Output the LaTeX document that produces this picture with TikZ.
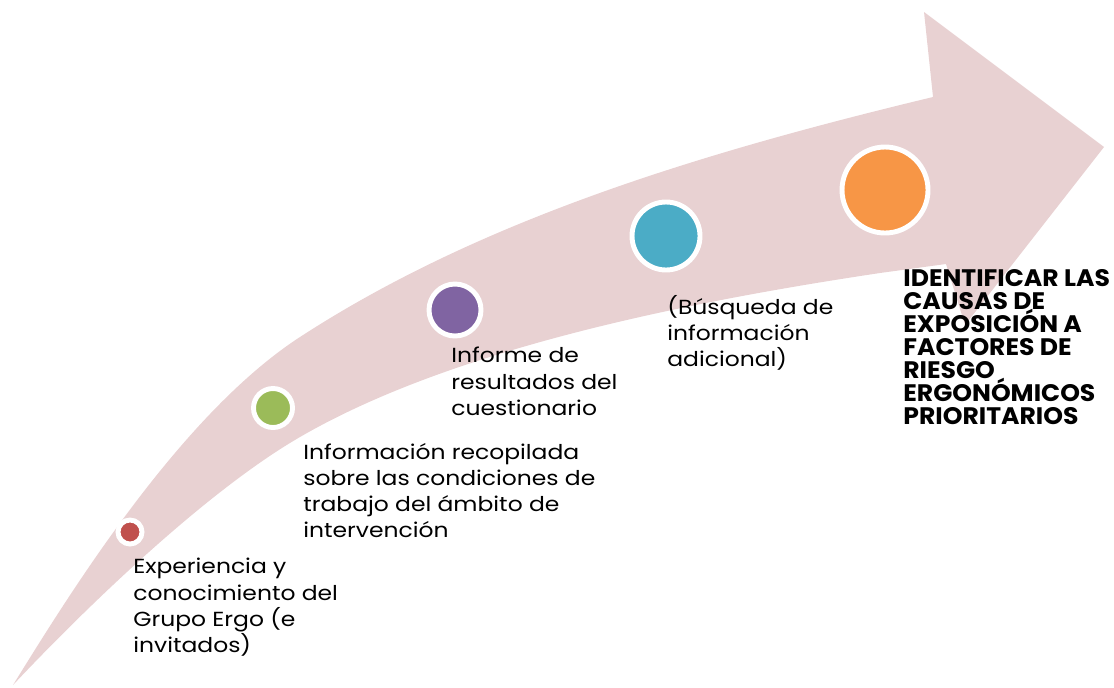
\documentclass[tikz,border=0pt]{standalone}
\usepackage{fontspec}
\setmainfont{Poppins}
\newfontfamily\ancha[FakeStretch=1.15]{Poppins}
\newfontfamily\anchameta[FakeStretch=1.05]{Poppins}
\usetikzlibrary{positioning}
\setlength{\lineskiplimit}{-20pt}

\definecolor{rosa}{RGB}{232,209,210}
\definecolor{rojo}{RGB}{192,80,77}
\definecolor{verde}{RGB}{155,187,89}
\definecolor{morado}{RGB}{128,100,162}
\definecolor{azul}{RGB}{75,172,198}
\definecolor{naranja}{RGB}{247,150,70}

\tikzset{
  punto/.style={circle,draw=white,line width=2.8pt,inner sep=0pt},
  texto/.style={anchor=north west,inner sep=0pt,align=left,
    font=\ancha\fontsize{11.6}{14.9}\selectfont},
  meta/.style={anchor=north west,inner sep=0pt,align=left,
    font=\anchameta\fontsize{13.6}{13.1}\selectfont\bfseries}
}

\begin{document}
\begin{tikzpicture}[x=0.02cm,y=-0.02cm]

\useasboundingbox (0,0) rectangle (1114,687);

%flecha
\coordinate (cola) at (13,685);
\coordinate (a) at (300,337);
\coordinate (b) at (300,437);
\fill[rosa] (cola) .. controls (70,593) and (180,415) .. (a)
  .. controls (480,220) and (700,153) .. (933,97)
  -- (924,12) -- (1104,147) -- (965,325) -- (946,264) -- (880,273)
  .. controls (680,303) and (450,350) .. (b)
  .. controls (210,489) and (93,600) .. (cola) -- cycle;

%puntos
\node[punto,fill=rojo,minimum size=24*0.02cm] (p1) at (130,532) {};
\node[punto,fill=verde,minimum size=39*0.02cm] (p2) at (273,408) {};
\node[punto,fill=morado,minimum size=52*0.02cm] (p3) at (455,310) {};
\node[punto,fill=azul,minimum size=68*0.02cm] (p4) at (666,236) {};
\node[punto,fill=naranja,minimum size=86*0.02cm] (p5) at (885,190) {};

%textos
\node[texto] (t1) at (133,558) {Experiencia y\\conocimiento del\\Grupo Ergo (e\\invitados)};
\node[texto] (t2) at (303,443) {Información recopilada\\sobre las condiciones de\\trabajo del ámbito de\\intervención};
\node[texto] (t3) at (451,347) {Informe de\\resultados del\\cuestionario};
\node[texto] (t4) at (667,295) {(Búsqueda de\\información\\adicional)};
\node[meta] (t5) at (903,269) {IDENTIFICAR LAS\\CAUSAS DE\\EXPOSICIÓN A\\FACTORES DE\\RIESGO\\ERGONÓMICOS\\PRIORITARIOS};

\end{tikzpicture}
\end{document}
